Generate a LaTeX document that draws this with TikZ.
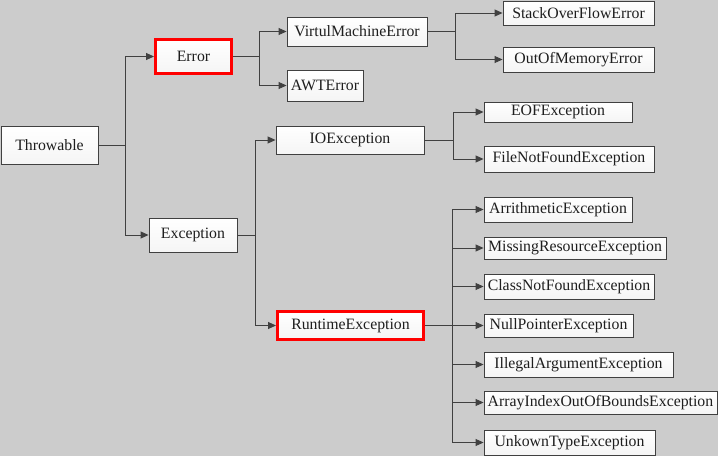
\documentclass[tikz,border=0pt]{standalone}
\usepackage{fontspec}
\setmainfont{Liberation Serif}
\usetikzlibrary{arrows.meta}
\definecolor{bg}{HTML}{CCCCCC}
\definecolor{ln}{HTML}{404040}
\definecolor{txt}{HTML}{1E1E1E}
\tikzset{
  cls/.style={draw=ln, line width=0.9pt, top color=white, bottom color=gray!8,
    inner sep=0pt, text=txt, font=\fontsize{15.8}{18}\selectfont, anchor=center},
  hl/.style={draw=red, line width=3pt},
  wire/.style={draw=ln, line width=0.9pt},
  conn/.style={wire, -{Triangle[length=8pt,width=7pt]}},
}
\newcommand{\cbox}[6]{\node[cls,#6, minimum width=#4pt, minimum height=#5pt] (#1) at (#2,#3) {#1x};}
\begin{document}
\begin{tikzpicture}[x=1pt,y=-1pt]
\fill[bg] (0,0) rectangle (718,456);
\useasboundingbox (0,0) rectangle (718,456);
% nodes
\node[cls, minimum width=97pt, minimum height=38pt] (throw) at (49.5,145) {Throwable};
\node[cls, hl, minimum width=76pt, minimum height=34pt] (error) at (193.5,56.5) {Error};
\node[cls, minimum width=88pt, minimum height=34pt] (exc) at (193,235) {Exception};
\node[cls, minimum width=140pt, minimum height=29pt] (vme) at (357,31.5) {VirtulMachineError};
\node[cls, minimum width=76pt, minimum height=31pt] (awt) at (325,85.5) {AWTError};
\node[cls, minimum width=151pt, minimum height=24pt] (sof) at (578.5,13) {StackOverFlowError};
\node[cls, minimum width=151pt, minimum height=25pt] (oom) at (578.5,59.5) {OutOfMemoryError};
\node[cls, minimum width=148pt, minimum height=28pt] (io) at (350,140) {IOException};
\node[cls, minimum width=148pt, minimum height=20pt] (eof) at (558,112) {EOFException};
\node[cls, minimum width=170pt, minimum height=26pt] (fnf) at (569,159) {FileNotFoundException};
\node[cls, hl, minimum width=146pt, minimum height=28pt] (rt) at (350.5,325.5) {RuntimeException};
\node[cls, minimum width=148pt, minimum height=25pt] (ari) at (558,209.5) {ArrithmeticException};
\node[cls, minimum width=182pt, minimum height=22pt] (mis) at (575,248) {MissingResourceException};
\node[cls, minimum width=170pt, minimum height=25pt] (cnf) at (569,286.5) {ClassNotFoundException};
\node[cls, minimum width=149pt, minimum height=23pt] (npe) at (558.5,325.5) {NullPointerException};
\node[cls, minimum width=189pt, minimum height=25pt] (iae) at (578.5,364.5) {IllegalArgumentException};
\node[cls, minimum width=233pt, minimum height=23pt] (aio) at (600.5,402.5) {ArrayIndexOutOfBoundsException};
\node[cls, minimum width=171pt, minimum height=25pt] (ute) at (569.5,442.5) {UnkownTypeException};
% junctions
\coordinate (j1) at (125,145);
\coordinate (j2) at (259,56.5);
\coordinate (j3) at (455,31.5);
\coordinate (j4) at (255,235);
\coordinate (j5) at (453,140);
\coordinate (j6) at (452,325.5);
% connectors
\draw[wire] (throw.east) -- (j1);
\draw[conn] (j1) |- (error.west);
\draw[conn] (j1) |- (exc.west);
\draw[wire] (error.east) -- (j2);
\draw[conn] (j2) |- (vme.west);
\draw[conn] (j2) |- (awt.west);
\draw[wire] (vme.east) -- (j3);
\draw[conn] (j3) |- (sof.west);
\draw[conn] (j3) |- (oom.west);
\draw[wire] (exc.east) -- (j4);
\draw[conn] (j4) |- (io.west);
\draw[conn] (j4) |- (rt.west);
\draw[wire] (io.east) -- (j5);
\draw[conn] (j5) |- (eof.west);
\draw[conn] (j5) |- (fnf.west);
\draw[wire] (rt.east) -- (j6);
\foreach \c in {ari,mis,cnf,npe,iae,aio,ute}
  \draw[conn] (j6) |- (\c.west);
\end{tikzpicture}
\end{document}
